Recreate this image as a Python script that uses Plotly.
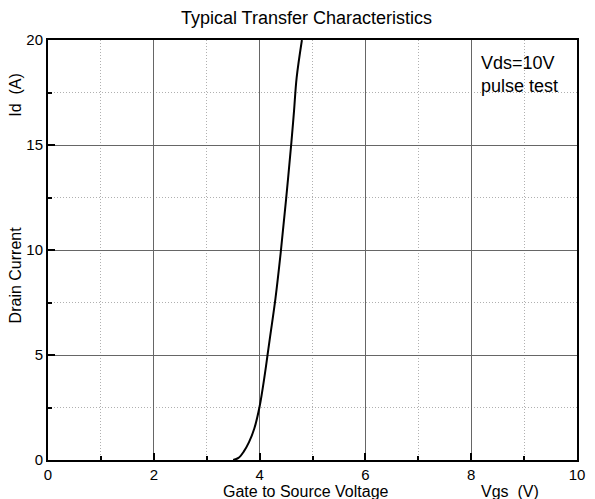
import plotly.graph_objects as go

vgs = [3.5, 3.6, 3.7, 3.8, 3.9, 4.0, 4.1, 4.15, 4.2, 4.3, 4.4, 4.5, 4.6, 4.65, 4.7, 4.8]
id_a = [0.0, 0.1, 0.4, 0.85, 1.5, 2.55, 4.1, 5.0, 5.9, 7.7, 9.9, 12.4, 15.1, 16.6, 18.2, 20.0]

x_ticks = [0, 2, 4, 6, 8, 10]
y_ticks = [0, 5, 10, 15, 20]

FONT = "Liberation Sans, Arial, sans-serif"

fig = go.Figure()
fig.add_trace(go.Scatter(x=vgs, y=id_a, mode="lines", line=dict(color="black", width=2, shape="spline"),
                         showlegend=False, hoverinfo="skip"))

axis_common = dict(
    showline=True, linecolor="black", linewidth=2, mirror=True,
    showgrid=True, gridcolor="#666666", gridwidth=1,
    ticks="inside", ticklen=7, tickcolor="black", tickwidth=2,
    tickfont=dict(family=FONT, size=15, color="black"),
    zeroline=False,
)

fig.update_xaxes(range=[0, 10], tickvals=x_ticks, ticktext=[str(v) for v in x_ticks],
                 minor=dict(dtick=1, tick0=0, ticks="inside", ticklen=4, tickcolor="black", tickwidth=2,
                            showgrid=True, gridcolor="#b0b0b0", griddash="1px,2px", gridwidth=1),
                 **axis_common)
fig.update_yaxes(range=[0, 20], tickvals=y_ticks, ticktext=[str(v) for v in y_ticks],
                 minor=dict(dtick=2.5, tick0=0, ticks="inside", ticklen=4, tickcolor="black", tickwidth=2,
                            showgrid=True, gridcolor="#b0b0b0", griddash="1px,2px", gridwidth=1),
                 **axis_common)

anns = [
    dict(text="Gate to Source Voltage", x=4.88, y=-0.05, xref="x", yref="paper", yanchor="top", xanchor="center",
         font=dict(size=16)),
    dict(text="Vgs  (V)", x=8.74, y=-0.05, xref="x", yref="paper", yanchor="top", xanchor="center",
         font=dict(size=16)),
    dict(text="Drain Current", x=-0.062, y=8.8, xref="paper", yref="y", textangle=-90, xanchor="center",
         yanchor="middle", font=dict(size=16)),
    dict(text="Id  (A)", x=-0.062, y=17.4, xref="paper", yref="y", textangle=-90, xanchor="center",
         yanchor="middle", font=dict(size=16)),
    dict(text="Vds=10V<br>pulse test", x=8.15, y=19.5, xref="x", yref="y", xanchor="left", yanchor="top",
         align="left", font=dict(size=18)),
]
for a in anns:
    a["showarrow"] = False
    a["font"]["family"] = FONT
    a["font"]["color"] = "black"
fig.update_layout(annotations=anns)

fig.update_layout(
    width=595, height=499,
    margin=dict(l=48, r=10, t=40, b=39),
    paper_bgcolor="white", plot_bgcolor="white",
    title=dict(text="Typical Transfer Characteristics", x=0.515, xanchor="center", y=0.978, yanchor="top",
               font=dict(family=FONT, size=18, color="black")),
)

fig.write_html("out.html", config={"displayModeBar": False},
               post_script="document.body.style.margin='0';")
